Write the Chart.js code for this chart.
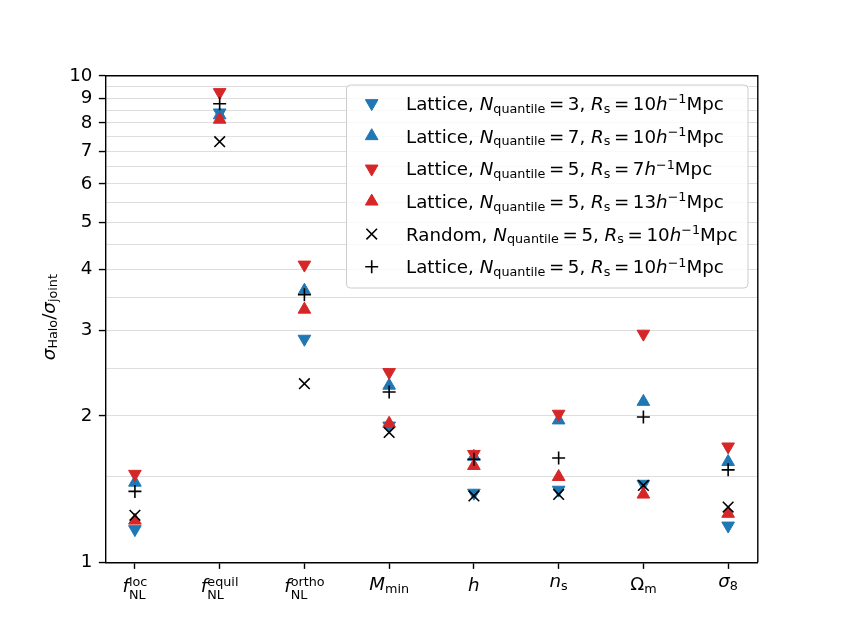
<!DOCTYPE html>
<html>
<head>
<meta charset="utf-8">
<script src="https://cdn.jsdelivr.net/npm/chart.js@4.4.0/dist/chart.umd.min.js"></script>
<style>
  html, body { margin: 0; padding: 0; background: #fff; }
  #wrap { width: 842px; height: 632px; position: relative; }
</style>
</head>
<body>
<div id="wrap"><canvas id="c"></canvas></div>
<script>
// labels use a tiny markup: *italic*, _{sub}, ^{sup}, ~ = thin math space
const categories = ['*f*_{NL}^{loc}', '*f*_{NL}^{equil}', '*f*_{NL}^{ortho}', '*M*_{min}', '*h*', '*n*_{s}', 'Ω_{m}', '*σ*_{8}'];
const yTicks = [1, 1.5, 2, 2.5, 3, 3.5, 4, 4.5, 5, 5.5, 6, 6.5, 7, 7.5, 8, 8.5, 9, 9.5, 10];
const yTitle = '*σ*_{Halo}/*σ*_{joint}';

const lat3_R10 = [1.17, 8.40, 2.88, 1.91, 1.39, 1.41, 1.45, 1.19];
const lat7_R10 = [1.46, 8.30, 3.62, 2.31, 1.65, 1.96, 2.14, 1.61];
const lat5_R7 = [1.52, 9.25, 4.09, 2.46, 1.67, 2.02, 2.95, 1.73];
const lat5_R13 = [1.22, 8.13, 3.31, 1.93, 1.58, 1.50, 1.38, 1.26];
const rand5_R10 = [1.25, 7.32, 2.33, 1.85, 1.37, 1.38, 1.44, 1.30];
const lat5_R10 = [1.40, 8.76, 3.55, 2.24, 1.63, 1.64, 1.99, 1.55];

const seriesLabels = [
  'Lattice, *N*_{quantile}~=~3, *R*_{s}~=~10*h*^{−1}Mpc',
  'Lattice, *N*_{quantile}~=~7, *R*_{s}~=~10*h*^{−1}Mpc',
  'Lattice, *N*_{quantile}~=~5, *R*_{s}~=~7*h*^{−1}Mpc',
  'Lattice, *N*_{quantile}~=~5, *R*_{s}~=~13*h*^{−1}Mpc',
  'Random, *N*_{quantile}~=~5, *R*_{s}~=~10*h*^{−1}Mpc',
  'Lattice, *N*_{quantile}~=~5, *R*_{s}~=~10*h*^{−1}Mpc'
];

const BLUE = '#1f77b4', RED = '#d62728';
const FONT = '"DejaVu Sans"';
const FS = 18.27;

const styles = [
  { color: BLUE, pointStyle: 'triangle', rotation: 180, radius: 7.3, width: 1 },
  { color: BLUE, pointStyle: 'triangle', rotation: 0, radius: 7.3, width: 1 },
  { color: RED, pointStyle: 'triangle', rotation: 180, radius: 7.3, width: 1 },
  { color: RED, pointStyle: 'triangle', rotation: 0, radius: 7.3, width: 1 },
  { color: '#000', pointStyle: 'crossRot', rotation: 0, radius: 7.5, width: 1.6 },
  { color: '#000', pointStyle: 'cross', rotation: 0, radius: 6.5, width: 1.6 }
];
const allSeries = [lat3_R10, lat7_R10, lat5_R7, lat5_R13, rand5_R10, lat5_R10];

function parseRich(s) {
  const out = [];
  let it = false, buf = '', i = 0;
  const flush = () => { if (buf) { out.push({ t: buf, it, pos: 0 }); buf = ''; } };
  while (i < s.length) {
    const c = s[i];
    if (c === '*') { flush(); it = !it; i++; }
    else if (c === '~') { flush(); out.push({ t: '', space: 0.195, pos: 0 }); i++; }
    else if ((c === '_' || c === '^') && s[i + 1] === '{') {
      flush();
      const end = s.indexOf('}', i);
      out.push({ t: s.slice(i + 2, end), it: false, pos: c === '_' ? 1 : -1 });
      i = end + 1;
    } else { buf += c; i++; }
  }
  flush();
  return out;
}

// lay out segments: items with x offset, dy and font, plus total width and ascent
function layoutRich(ctx, str, size) {
  const segs = parseRich(str);
  const items = [];
  let x = 0, ascent = 0;
  for (let k = 0; k < segs.length; k++) {
    const sg = segs[k];
    if (sg.space) { x += sg.space * size; continue; }
    const fs = sg.pos ? size * 0.7 : size;
    const font = (sg.it ? 'italic ' : '') + fs + 'px ' + FONT;
    ctx.font = font;
    const m = ctx.measureText(sg.t);
    const prev = items[items.length - 1];
    const next = segs[k + 1];
    const stacked = sg.pos && ((prev && prev.pos && prev.pos !== sg.pos) || (next && next.pos && next.pos !== sg.pos));
    let dy = 0;
    if (sg.pos === 1) dy = stacked ? size * 0.36 : size * 0.15;
    if (sg.pos === -1) dy = stacked ? -size * 0.33 : -size * 0.36;
    let sx = x;
    if (sg.pos && prev && prev.pos && prev.pos !== sg.pos && prev.end === x) {
      sx = prev.x;
      x = sx + Math.max(prev.w, m.width);
    } else {
      x = sx + m.width;
    }
    ascent = Math.max(ascent, m.actualBoundingBoxAscent - dy);
    items.push({ t: sg.t, x: sx, w: m.width, end: x, dy, font, pos: sg.pos });
  }
  return { items, width: x, ascent };
}

function drawRich(ctx, lay, x, y) {
  ctx.textAlign = 'left';
  ctx.textBaseline = 'alphabetic';
  for (const it of lay.items) {
    ctx.font = it.font;
    ctx.fillText(it.t, x + it.x, y + it.dy);
  }
}

const mathTextPlugin = {
  id: 'mathText',
  afterDraw(chart) {
    const ctx = chart.ctx;
    const area = chart.chartArea;
    const xs = chart.scales.x;
    ctx.save();
    ctx.fillStyle = '#000';

    // frame on top and right
    ctx.strokeStyle = '#000';
    ctx.lineWidth = 1.4;
    ctx.beginPath();
    ctx.moveTo(area.left, area.top);
    ctx.lineTo(area.right, area.top);
    ctx.lineTo(area.right, area.bottom);
    ctx.stroke();

    // x tick labels
    categories.forEach((c, i) => {
      const lay = layoutRich(ctx, c, FS);
      const px = xs.getPixelForValue(i);
      drawRich(ctx, lay, px - lay.width / 2, 577 + lay.ascent);
    });

    // y title
    const lay = layoutRich(ctx, yTitle, FS);
    ctx.save();
    ctx.translate(54.5, (area.top + area.bottom) / 2 - 2);
    ctx.rotate(-Math.PI / 2);
    drawRich(ctx, lay, -lay.width / 2, 0);
    ctx.restore();

    // legend
    const bx = 346.5, by = 85, bw = 401.5, bh = 203;
    ctx.fillStyle = 'rgba(255,255,255,0.8)';
    ctx.strokeStyle = '#cccccc';
    ctx.lineWidth = 1;
    ctx.beginPath();
    ctx.roundRect(bx, by, bw, bh, 4);
    ctx.fill();
    ctx.stroke();
    seriesLabels.forEach((lab, i) => {
      const cy = 103.3 + i * 32.7;
      const st = styles[i];
      ctx.fillStyle = st.color;
      ctx.strokeStyle = st.color;
      ctx.lineWidth = st.width;
      Chart.helpers.drawPoint(ctx, {
        pointStyle: st.pointStyle, radius: st.radius, rotation: st.rotation, borderWidth: st.width
      }, 371.7, cy);
      ctx.fillStyle = '#000';
      const l = layoutRich(ctx, lab, FS);
      drawRich(ctx, l, 406, cy + 6.5);
    });
    ctx.restore();
  }
};

const datasets = allSeries.map((vals, i) => ({
  label: seriesLabels[i],
  data: vals.map((v, k) => ({ x: k, y: v })),
  backgroundColor: styles[i].color,
  borderColor: styles[i].color,
  pointStyle: styles[i].pointStyle,
  pointRotation: styles[i].rotation,
  pointRadius: styles[i].radius,
  pointBorderWidth: styles[i].width,
  pointHoverRadius: styles[i].radius,
  showLine: false,
  order: allSeries.length - i,
  clip: false
}));

new Chart(document.getElementById('c'), {
  type: 'scatter',
  data: { datasets },
  options: {
    responsive: true,
    maintainAspectRatio: false,
    animation: false,
    events: [],
    layout: { padding: { left: 0, right: 84.2, top: 75.8, bottom: 0 } },
    plugins: { legend: { display: false }, tooltip: { enabled: false } },
    scales: {
      x: {
        type: 'linear',
        min: -0.35,
        max: 7.35,
        afterBuildTicks: (s) => { s.ticks = categories.map((c, i) => ({ value: i })); },
        afterFit: (s) => { s.height = 632 - 562.5; },
        ticks: { callback: () => '', font: { family: 'DejaVu Sans', size: FS } },
        grid: { drawOnChartArea: false, tickLength: 6.4, tickColor: '#000', tickWidth: 1.4 },
        border: { color: '#000', width: 1.4 }
      },
      y: {
        type: 'logarithmic',
        min: 1,
        max: 10,
        afterBuildTicks: (s) => { s.ticks = yTicks.map(v => ({ value: v })); },
        afterFit: (s) => { s.width = 105.25; },
        ticks: {
          autoSkip: false,
          padding: 6.4,
          color: '#000',
          font: { family: 'DejaVu Sans', size: FS },
          callback: (v) => Number.isInteger(v) ? String(v) : ''
        },
        grid: {
          color: '#dedede',
          lineWidth: 1.1,
          tickLength: 6.4,
          tickWidth: 1.4,
          tickColor: (c) => (c.tick && Number.isInteger(c.tick.value)) ? '#000' : 'rgba(0,0,0,0)'
        },
        border: { color: '#000', width: 1.4 }
      }
    }
  },
  plugins: [mathTextPlugin]
});
</script>
</body>
</html>
